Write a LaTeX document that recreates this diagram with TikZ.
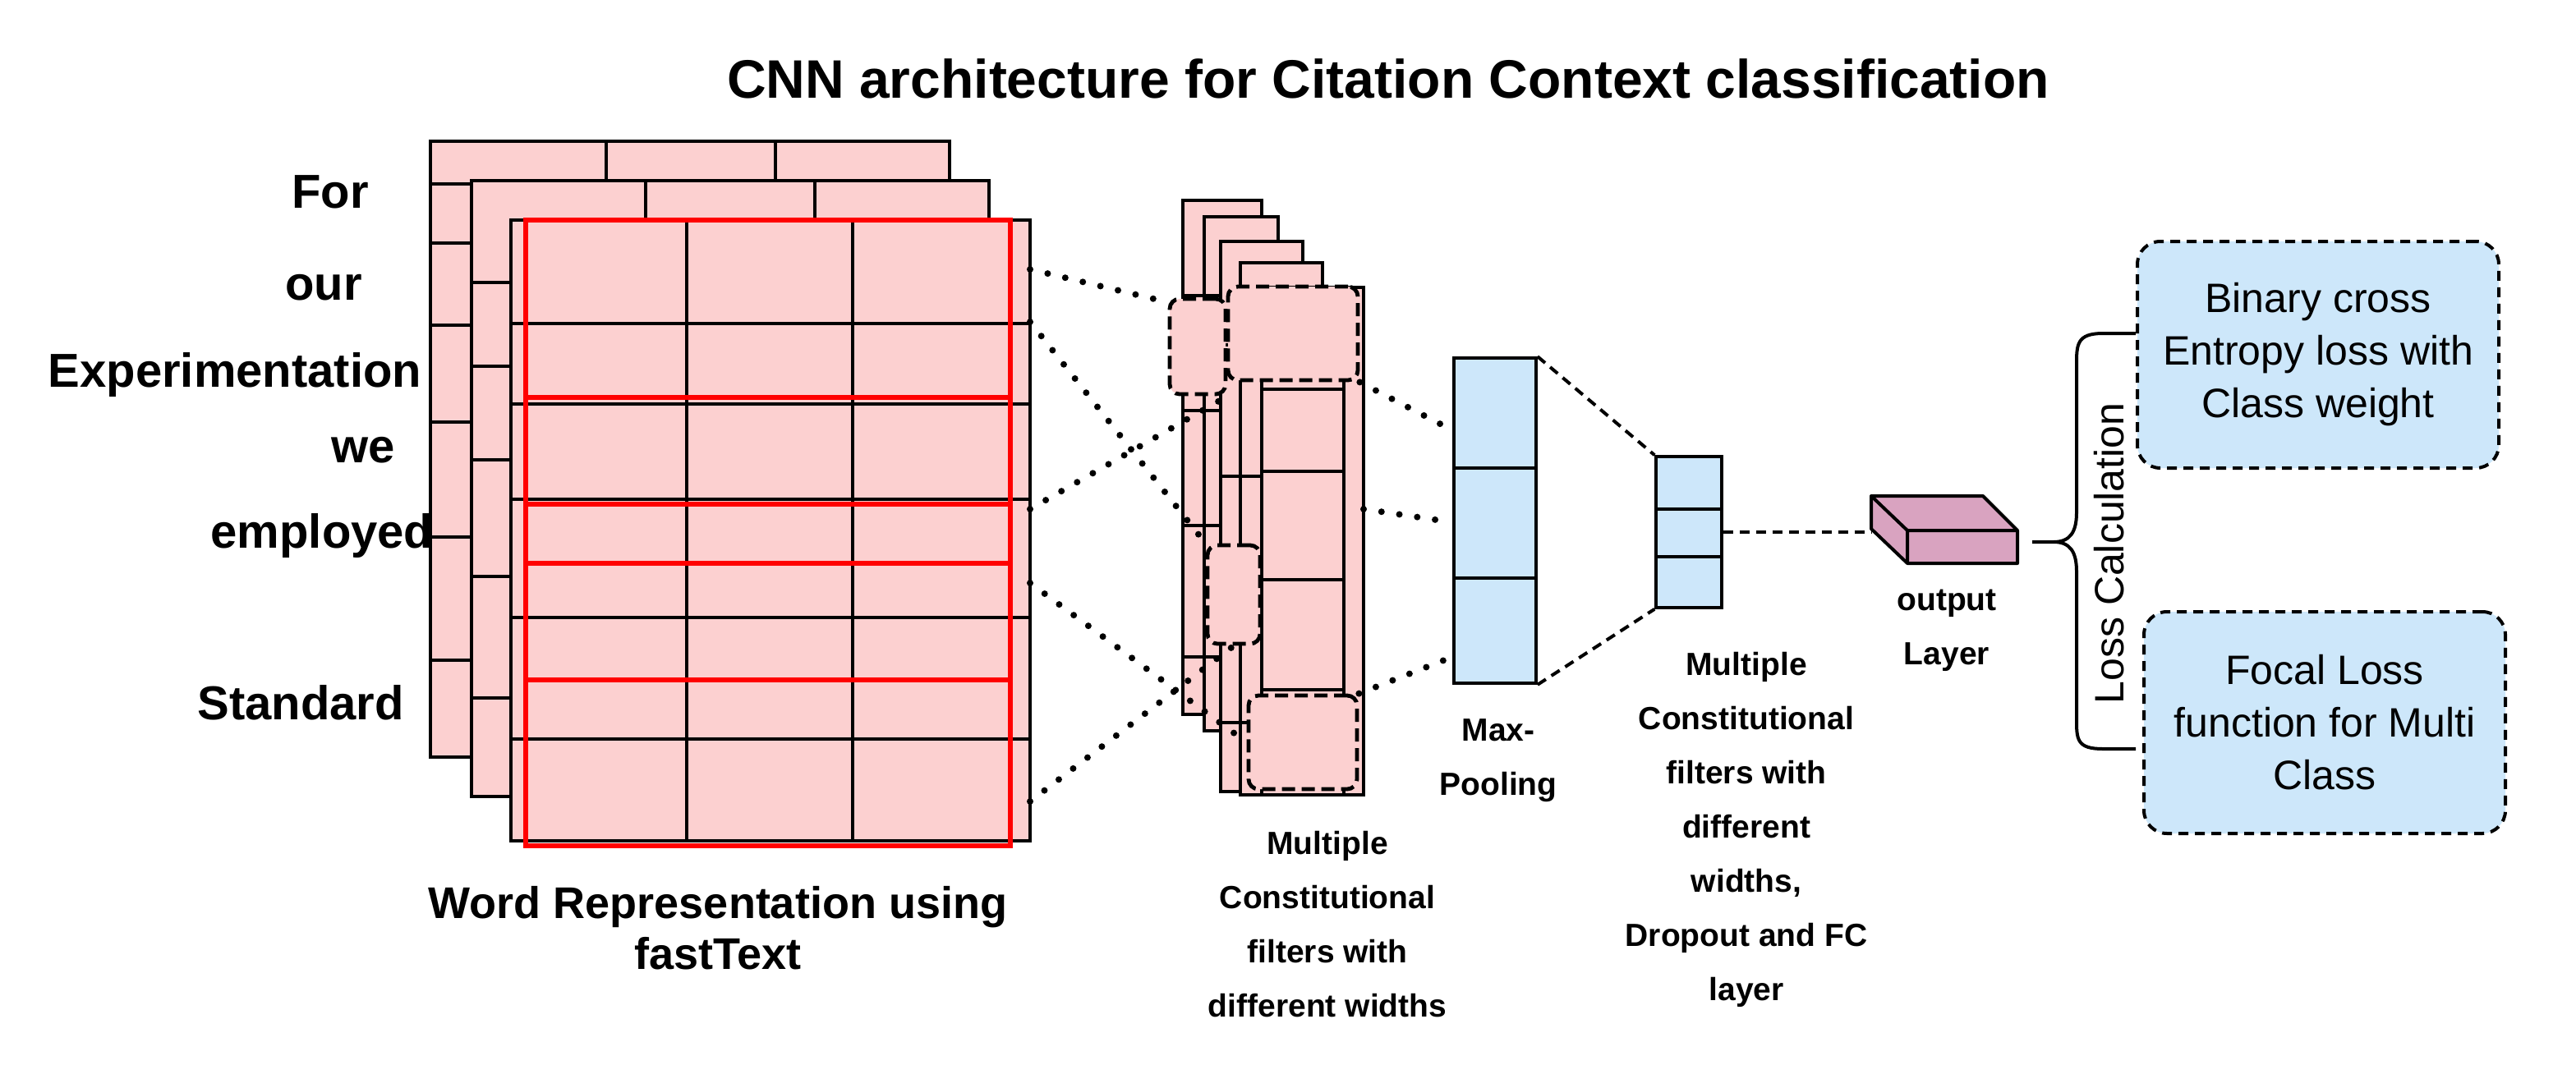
\documentclass[tikz,border=0pt]{standalone}
\usepackage{fontspec}
\setmainfont{Liberation Sans}
\definecolor{pk}{HTML}{FCD0D0}
\definecolor{lb}{HTML}{CDE7FA}
\definecolor{mv}{HTML}{D9A3C0}
\begin{document}
\begin{tikzpicture}[x=1pt,y=-1pt,
  card/.style={fill=pk,draw=black,line width=1.8pt},
  gl/.style={draw=black,line width=1.8pt},
  red/.style={draw=red,line width=3.2pt},
  dots/.style={line width=4pt,dash pattern=on 0pt off 11pt,line cap=round},
  dsh/.style={line width=2pt,dash pattern=on 6pt off 4pt},
  filt/.style={fill=pk,draw=black,line width=2.4pt,dash pattern=on 8pt off 4pt,rounded corners=6pt},
  lbl/.style={font=\bfseries\fontsize{29}{33}\selectfont},
  capt/.style={font=\bfseries\fontsize{19.5}{33}\selectfont,align=center},
  box/.style={fill=lb,draw=black,line width=2pt,dash pattern=on 6pt off 4pt,rounded corners=14pt},
  btx/.style={font=\fontsize{25}{32}\selectfont,align=center}]
\useasboundingbox (0,0) rectangle (1568,648);
\node[font=\bfseries\fontsize{33}{36}\selectfont] (title) at (845,48) {CNN architecture for Citation Context classification};
% back layer
\draw[card] (262,86) rectangle (578,461);
\foreach \y in {148,198,257,327,402} \draw[gl] (262,\y) -- (290,\y);
\draw[gl] (262,112) -- (578,112);
\foreach \x in {369,472} \draw[gl] (\x,86) -- (\x,112);
% middle layer
\draw[card] (287,110) rectangle (602,485);
\foreach \y in {172,223,280,351,425} \draw[gl] (287,\y) -- (315,\y);
\foreach \x in {393,496} \draw[gl] (\x,110) -- (\x,134);
% front layer
\draw[card] (311,134) rectangle (627,512);
\foreach \y in {197,246,304,376,450} \draw[gl] (311,\y) -- (627,\y);
\foreach \x in {418,519} \draw[gl] (\x,134) -- (\x,512);
\draw[red] (320,134) rectangle (615,515);
\draw[red] (320,242) rectangle (615,307);
\draw[red] (320,343) rectangle (615,414);
% word labels
\node[lbl] (w1) at (201,117) {For};
\node[lbl] (w2) at (197,175) {our};
\node[lbl] (w3) at (143,228) {Experimentation};
\node[lbl] (w4) at (221,274) {we};
\node[lbl] (w5) at (196,326) {employed};
\node[lbl] (w6) at (183,428) {Standard};
\node[font=\bfseries\fontsize{27}{31}\selectfont,align=center] (wr) at (437,565) {Word Representation using\\fastText};
% conv cards
\draw[card] (720,122) rectangle (768,435);
\draw[card] (733,132) rectangle (778,445);
\draw[card] (743,147) rectangle (793,482);
\draw[card] (755,160) rectangle (805,484);
\draw[card] (768,175) rectangle (830,484);
\foreach \y in {237,287,353,420} \draw[gl] (768,\y) -- (818,\y);
\draw[gl] (818,175) -- (818,484);
\foreach \y in {180,250,320,400} \draw[gl] (720,\y) -- (743,\y);
\foreach \y in {210,290,370,440} \draw[gl] (743,\y) -- (768,\y);
\node[filt] (f1) at (729,211) [minimum width=34pt,minimum height=58pt] {};
\node[filt] (f2) at (751,362) [minimum width=32pt,minimum height=60pt] {};
\node[filt] (f3) at (787,203) [minimum width=79pt,minimum height=57pt] {};
\node[filt] (f4) at (793,452) [minimum width=66pt,minimum height=57pt] {};
% dotted connectors
\coordinate (a1) at (627,164); \coordinate (a2) at (627,196);
\coordinate (a3) at (627,310); \coordinate (a4) at (627,355);
\coordinate (a5) at (627,488);
\draw[dots] (a1) -- (f1.west |- 0,184);
\draw[dots] (a2) -- (f2.north west);
\draw[dots] (a3) -- (f1.south east);
\draw[dots] (a4) -- (f4.west);
\draw[dots] (a5) -- (f2.south);
% max pool
\node[fill=lb,draw=black,line width=1.8pt,minimum width=50pt,minimum height=198pt,inner sep=0] (mp) at (910,317) {};
\draw[gl] (885,285) -- (935,285); \draw[gl] (885,352) -- (935,352);
\draw[dots] (f3.south east) -- (mp.west |- 0,262);
\draw[dots] (830,310) -- (mp.west |- 0,318);
\draw[dots] (f4.north east) -- (mp.west |- 0,400);
\node[capt] (mpl) at (912,463) {Max-\\Pooling};
% small fc
\node[fill=lb,draw=black,line width=1.8pt,minimum width=40pt,minimum height=92pt,inner sep=0] (fc) at (1028,324) {};
\draw[gl] (1008,310) -- (1048,310); \draw[gl] (1008,339) -- (1048,339);
\draw[dsh] (mp.north east) -- (fc.north west);
\draw[dsh] (mp.south east) -- (fc.south west);
\node[capt] (fcl) at (1063,505) {Multiple\\Constitutional\\filters with\\different\\widths,\\Dropout and FC\\layer};
\node[capt] (cvl) at (808,563) {Multiple\\Constitutional\\filters with\\different widths};
% output box
\coordinate (o1) at (1139,302); \coordinate (o2) at (1207,302);
\coordinate (o3) at (1228,323); \coordinate (o4) at (1161,323);
\coordinate (o5) at (1228,343); \coordinate (o6) at (1161,343);
\coordinate (o7) at (1139,322);
\draw[fill=mv,line width=2pt,line join=round] (o1) -- (o2) -- (o3) -- (o5) -- (o6) -- (o7) -- cycle;
\draw[line width=2pt] (o1) -- (o4) -- (o3) (o4) -- (o6);
\draw[dsh] (fc.east) -- (o1 |- fc.east);
\node[capt] (ol) at (1185,384) {output\\Layer};
% brace
\coordinate (b0) at (1237,330);
\coordinate (bt) at (1300,203); \coordinate (bb) at (1300,456);
\draw[line width=2pt,line join=round] (bt) -- (1280,203) .. controls (1264,203) and (1264,210) .. (1264,222)
  -- (1264,312) .. controls (1264,324) and (1260,330) .. (1250,330) -- (b0)
  (1250,330) .. controls (1260,330) and (1264,336) .. (1264,348) -- (1264,438)
  .. controls (1264,450) and (1264,456) .. (1280,456) -- (bb);
\node[rotate=90,font=\fontsize{25}{30}\selectfont] (lc) at (1284,337) {Loss Calculation};
% loss boxes
\node[box,minimum width=220pt,minimum height=138pt] (l1) at (1411,216) {};
\node[btx] at (l1) {Binary cross\\Entropy loss with\\Class weight};
\node[box,minimum width=220pt,minimum height=135pt] (l2) at (1415,440) {};
\node[btx] at (l2) {Focal Loss\\function for Multi\\Class};
\end{tikzpicture}
\end{document}
